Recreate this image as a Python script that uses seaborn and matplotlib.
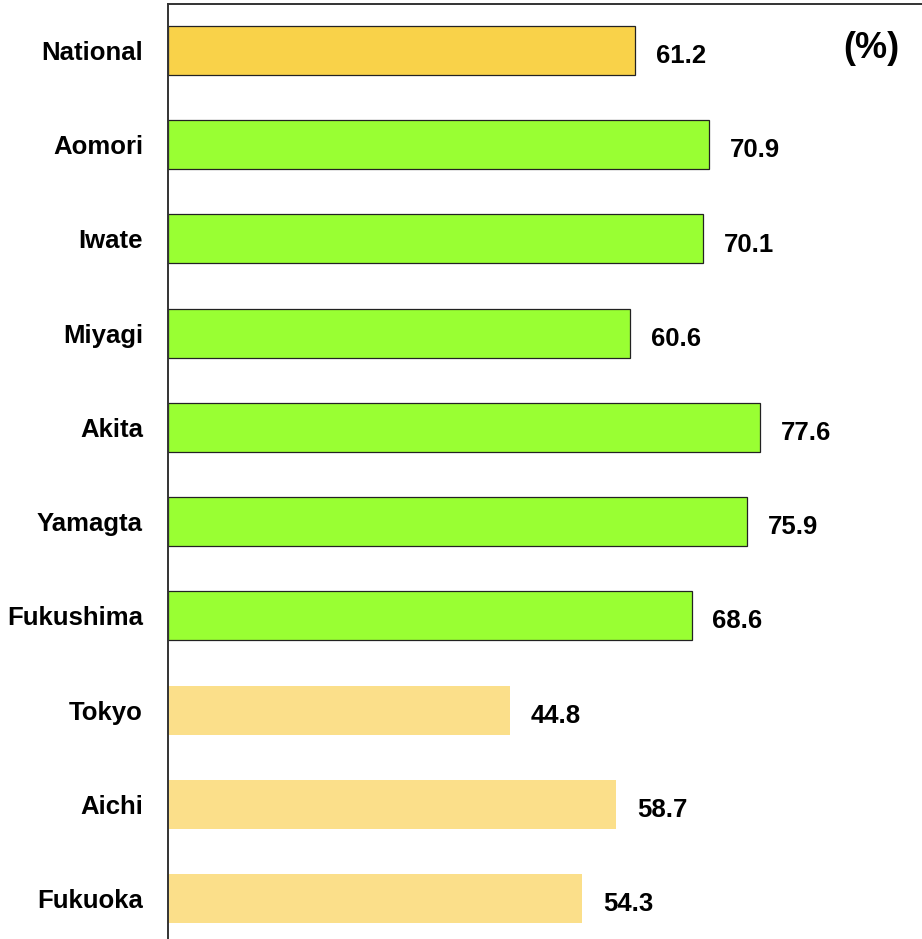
import matplotlib
matplotlib.use("Agg")
import matplotlib.pyplot as plt
import seaborn as sns
import pandas as pd

regions = ["National", "Aomori", "Iwate", "Miyagi", "Akita", "Yamagta",
           "Fukushima", "Tokyo", "Aichi", "Fukuoka"]
values = [61.2, 70.9, 70.1, 60.6, 77.6, 75.9, 68.6, 44.8, 58.7, 54.3]
groups = ["national", "tohoku", "tohoku", "tohoku", "tohoku", "tohoku",
          "tohoku", "urban", "urban", "urban"]
unit_label = "(%)"

group_colors = {"national": "#F9D249", "tohoku": "#99FF33", "urban": "#FBDF8A"}
group_edges = {"national": "#222222", "tohoku": "#222222", "urban": "none"}

df = pd.DataFrame({"region": regions, "value": values, "group": groups})

sns.set_theme(style="white")
plt.rcParams["font.family"] = ["Liberation Sans", "DejaVu Sans"]

fig = plt.figure(figsize=(9.22, 9.39), dpi=100)
ax = fig.add_axes([168 / 922, 0.0, (922 - 168) / 922, (939 - 4) / 939])

palette = [group_colors[g] for g in groups]
sns.barplot(data=df, x="value", y="region", hue="region", palette=palette,
            legend=False, width=0.52, saturation=1, ax=ax, order=regions,
            hue_order=regions)

for cont, g in zip(ax.containers, groups):
    for p in cont:
        ec = group_edges[g]
        if ec == "none":
            p.set_edgecolor(group_colors[g])
            p.set_linewidth(0)
        else:
            p.set_edgecolor(ec)
            p.set_linewidth(0.9)

for i, v in enumerate(values):
    ax.annotate(f"{v:.1f}", xy=(v, i), xytext=(15, -4), textcoords="offset points",
                ha="left", va="center", fontsize=18.5, fontweight="bold",
                color="black")

ax.set_xlim(0, 98.8)
ax.set_ylim(9.43, -0.494)
ax.set_xlabel("")
ax.set_ylabel("")
ax.set_xticks([])
ax.tick_params(axis="y", length=0, pad=18, labelsize=18.5)
for lab in ax.get_yticklabels():
    lab.set_fontweight("bold")
    lab.set_color("black")

for s in ["right", "bottom"]:
    ax.spines[s].set_visible(False)
for s in ["top", "left"]:
    ax.spines[s].set_visible(True)
    ax.spines[s].set_color("#333333")
    ax.spines[s].set_linewidth(1.4)

fig.text(871 / 922, 1 - 49 / 939, unit_label, ha="center", va="center",
         fontsize=26, fontweight="bold", color="black")

fig.savefig("out.png", dpi=100)
